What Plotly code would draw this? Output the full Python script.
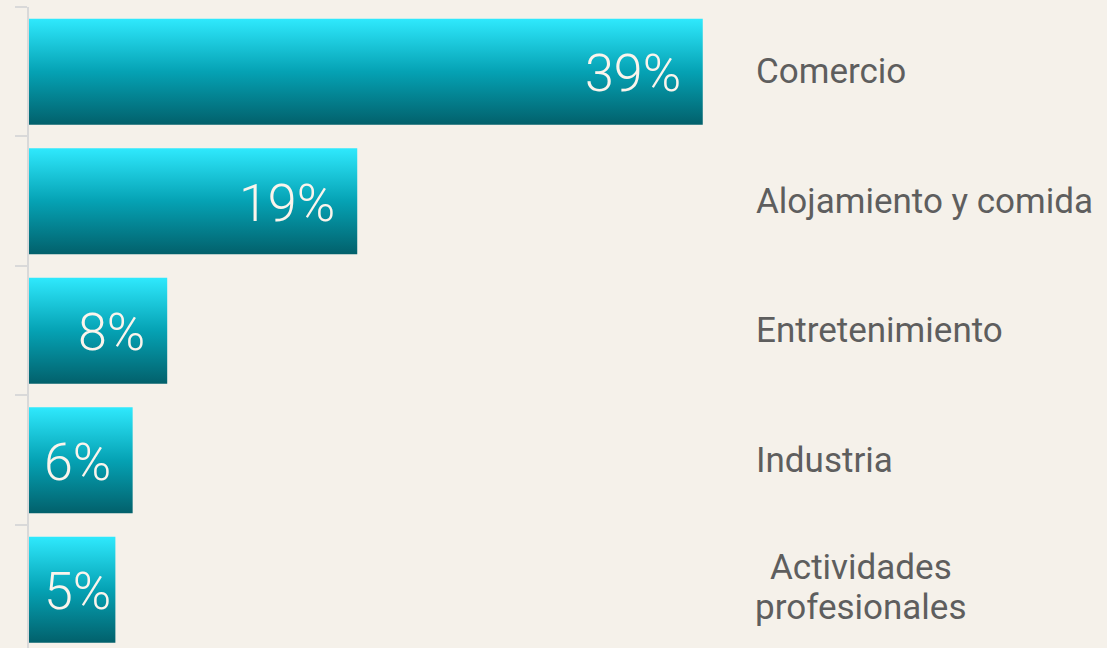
import plotly.graph_objects as go

categories = ["Comercio", "Alojamiento y comida", "Entretenimiento", "Industria",
              "Actividades<br>profesionales"]
values = [39, 19, 8, 6, 5]
value_labels = ["39%", "19%", "8%", "6%", "5%"]

BG = "#f5f1ea"
HALF = 0.41
colorscale = [[0.0, "#02606b"], [0.5, "#05a2b4"], [1.0, "#2fe9fd"]]

fig = go.Figure()
for i, (cat, v) in enumerate(zip(categories, values)):
    fig.add_trace(go.Scatter(
        x=[0, v, v, 0, 0],
        y=[i - HALF, i - HALF, i + HALF, i + HALF, i - HALF],
        mode="lines", line=dict(width=0),
        fill="toself",
        fillgradient=dict(type="vertical", colorscale=colorscale,
                          start=i + HALF, stop=i - HALF),
        hoverinfo="skip", showlegend=False,
    ))

annotations = []
pct_font = dict(family="Roboto", size=52, color="#fbf4ec", weight=300)
for i, (v, lab) in enumerate(zip(values, value_labels)):
    if v >= 7:
        annotations.append(dict(x=v, y=i, xref="x", yref="y", text=lab,
                                xanchor="right", xshift=-20, yshift=-2, showarrow=False,
                                font=pct_font))
    else:
        annotations.append(dict(x=0, y=i, xref="x", yref="y", text=lab,
                                xanchor="left", xshift=13, yshift=-2, showarrow=False,
                                font=pct_font))

cat_font = dict(family="Roboto", size=35, color="#5e5e5e")
LX = 0.6725
for i, cat in enumerate(categories):
    lines = cat.split("<br>")
    if len(lines) == 1:
        annotations.append(dict(x=LX, y=i, xref="paper", yref="y", text=cat,
                                xanchor="left", yanchor="middle", align="left",
                                showarrow=False, font=cat_font))
    else:
        annotations.append(dict(x=LX, y=i, xref="paper", yref="y", text=lines[0],
                                xanchor="left", yanchor="middle", xshift=15, yshift=22,
                                borderpad=0, showarrow=False, font=cat_font))
        annotations.append(dict(x=LX, y=i, xref="paper", yref="y", text=lines[1],
                                xanchor="left", yanchor="middle", yshift=-18,
                                borderpad=0, showarrow=False, font=cat_font))

fig.update_layout(
    width=1107, height=648,
    margin=dict(l=29, r=0, t=7, b=0),
    paper_bgcolor=BG, plot_bgcolor=BG,
    annotations=annotations,
    xaxis=dict(range=[0, 62.4], visible=False, showgrid=False, zeroline=False),
    yaxis=dict(range=[4.45, -0.5], showgrid=False, zeroline=False,
               showline=True, linecolor="#d9d9d9", linewidth=2,
               tickvals=[-0.5, 0.5, 1.5, 2.5, 3.5], ticks="outside",
               ticklen=12, tickwidth=2, tickcolor="#d9d9d9",
               showticklabels=False),
)

fig.write_html("out.html", config={"displayModeBar": False},
               post_script="document.body.style.margin='0';document.body.style.background='%s';" % BG)
